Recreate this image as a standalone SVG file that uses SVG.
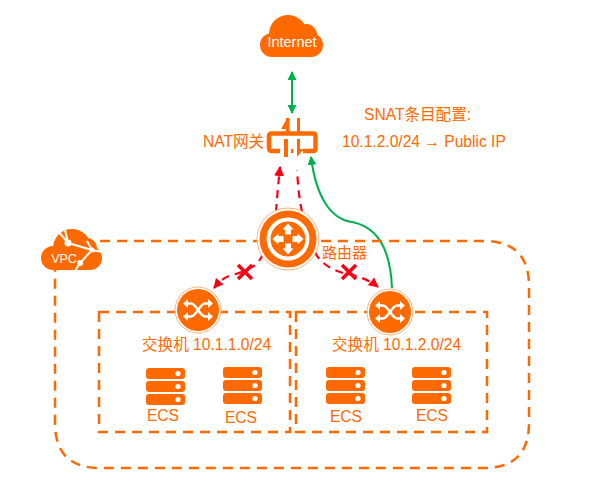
<svg xmlns="http://www.w3.org/2000/svg" width="597" height="487" viewBox="0 0 597 487">
<style>
text{font-family:"Liberation Sans","Noto Sans CJK SC",sans-serif;fill:#ff6a00;font-size:15.600px}
.wt{fill:#fff}
.or{fill:#ff6a00}
.dash{fill:none;stroke:#ff6a00;stroke-width:2.500;stroke-dasharray:10 7}
.red{fill:none;stroke:#fa0014;stroke-width:2.200;stroke-dasharray:8 6}
.x{stroke:#fa0014;stroke-width:3.500;fill:none}
.grn{fill:none;stroke:#00b050;stroke-width:2}
.arw{fill:none;stroke:#fff;stroke-width:2.600}
.ln{fill:none;stroke:#fff;stroke-width:2}
</style>
<defs>
<marker id="rd" markerWidth="12" markerHeight="12" refX="9" refY="5" orient="auto" markerUnits="userSpaceOnUse"><path d="M0 0L10 5L0 10Z" fill="#fa0014"/></marker>
<marker id="gr" markerWidth="10" markerHeight="10" refX="8" refY="4.500" orient="auto-start-reverse" markerUnits="userSpaceOnUse"><path d="M0 0L9 4.500L0 9Z" fill="#00b050"/></marker>
<g id="srv">
<rect x="0" y="0" width="39" height="11" rx="3" class="or"/><circle cx="32" cy="5.500" r="2.600" class="wt"/>
<rect x="0" y="13" width="39" height="11" rx="3" class="or"/><circle cx="32" cy="18.500" r="2.600" class="wt"/>
<rect x="0" y="26" width="39" height="11" rx="3" class="or"/><circle cx="32" cy="31.500" r="2.600" class="wt"/>
</g>
<g id="sw">
<circle r="23" fill="#fff" stroke="#ffb27f" stroke-width="1"/>
<circle r="21" class="or"/>
<path class="arw" d="M-11 -6.500H-7C-2 -6.500 2 6.500 7 6.500H11M-11 6.500H-7C-2 6.500 2 -6.500 7 -6.500H11"/>
<path class="wt" d="M10 -11L15 -6.500L10 -2ZM10 2L15 6.500L10 11ZM-10 -11L-15 -6.500L-10 -2ZM-10 2L-15 6.500L-10 11Z"/>
</g>
<path id="blk" class="wt" d="M0 -15.500L5.500 -9.500H3V-4.500H-3V-9.500H-5.500Z"/>
</defs>
<g id="connectors">
<path class="grn" marker-start="url(#gr)" marker-end="url(#gr)" d="M292 72V113"/>
<path class="grn" marker-end="url(#gr)" d="M392 288C391 262 384 228 352 222C330 219 316 196 311 157"/>
<path class="red" marker-end="url(#rd)" d="M276 212C277 198 278 186 280 167"/>
<path class="red" d="M302 212C299 198 298 185 297 170"/>
<path class="red" marker-end="url(#rd)" d="M263 254C258 268 240 273 232 275C224 277 219 282 214 288"/>
<path class="red" marker-end="url(#rd)" d="M315 252C320 264 335 271 343 273C355 275 368 279 378 287"/>
<path class="x" d="M238 265L252 279M252 265L238 279"/>
<path class="x" d="M342 265L356 279M356 265L342 279"/>
</g>
<g id="vpc-boundary"><path class="dash" d="M100 241H484Q529 241 529 286V423Q529 468 484 468H100Q55 468 55 423V270"/></g>
<g id="subnet-1"><rect class="dash" x="99" y="312" width="191" height="120"/><text x="142" y="350">交换机 10.1.1.0/24</text></g>
<g id="subnet-2"><rect class="dash" x="296" y="312" width="191" height="120"/><text x="332" y="350">交换机 10.1.2.0/24</text></g>
<g id="internet">
<g class="or"><circle cx="288" cy="34" r="19"/><circle cx="272" cy="45" r="12"/><circle cx="311" cy="45" r="12"/><circle cx="306" cy="35" r="11"/><rect x="272" y="40" width="39" height="17"/></g>
<text x="292" y="47" text-anchor="middle" style="fill:#fff;font-size:14.500px">Internet</text>
</g>
<g id="nat">
<text x="203" y="147">NAT网关</text>
<path d="M272 133.500H313Q315.500 133.500 315.500 136V148Q315.500 151 313 151H303M280 151H272Q269 151 269 148V136Q269 133.500 272 133.500" fill="none" stroke="#ff6a00" stroke-width="4.500"/>
<path class="or" d="M281 129H286V120ZM286 118H289.500V132H286ZM297 118H300V132H297ZM284 139H288V157H284ZM291 149H293.500V153H291ZM297 139H300V149H304L297 157Z"/>
</g>
<g id="snat"><text x="364" y="120">SNAT条目配置:</text><text x="342" y="147">10.1.2.0/24 → Public IP</text></g>
<g id="router">
<circle cx="288" cy="239" r="31" fill="#fff" stroke="#ffb27f"/>
<circle cx="288" cy="239" r="28.500" class="or"/>
<circle cx="288" cy="239" r="19.500" fill="none" stroke="#fff" stroke-width="4"/>
<use href="#blk" transform="translate(288 239)"/>
<use href="#blk" transform="translate(288 239) rotate(90)"/>
<use href="#blk" transform="translate(288 239) rotate(180)"/>
<use href="#blk" transform="translate(288 239) rotate(270)"/>
<text x="322" y="258" style="font-size:15px">路由器</text>
</g>
<g id="vpc">
<g class="or"><circle cx="53" cy="258" r="12"/><circle cx="72" cy="248" r="19"/><circle cx="90" cy="258" r="12"/><circle cx="87" cy="248" r="10"/><rect x="53" y="250" width="37" height="20"/></g>
<path class="ln" d="M58 231L68 243L65 230M68 243L92 250L87 241M92 250L102 252M92 250L80 263L75 271"/>
<circle cx="68" cy="243" r="3.500" class="wt"/><circle cx="80" cy="263" r="3" class="wt"/><circle cx="92" cy="250" r="2.500" class="wt"/>
<text x="64" y="263" text-anchor="middle" style="fill:#fff;font-size:12.500px">VPC</text>
</g>
<g id="switch-1"><use href="#sw" x="198" y="310"/></g>
<g id="switch-2"><use href="#sw" x="390" y="312"/></g>
<g id="ecs-1"><use href="#srv" x="146" y="368"/><text x="163" y="421" text-anchor="middle">ECS</text></g>
<g id="ecs-2"><use href="#srv" x="223" y="367"/><text x="241" y="423" text-anchor="middle">ECS</text></g>
<g id="ecs-3"><use href="#srv" x="326" y="367"/><text x="346" y="422" text-anchor="middle">ECS</text></g>
<g id="ecs-4"><use href="#srv" x="412" y="367"/><text x="432" y="421" text-anchor="middle">ECS</text></g>
</svg>
